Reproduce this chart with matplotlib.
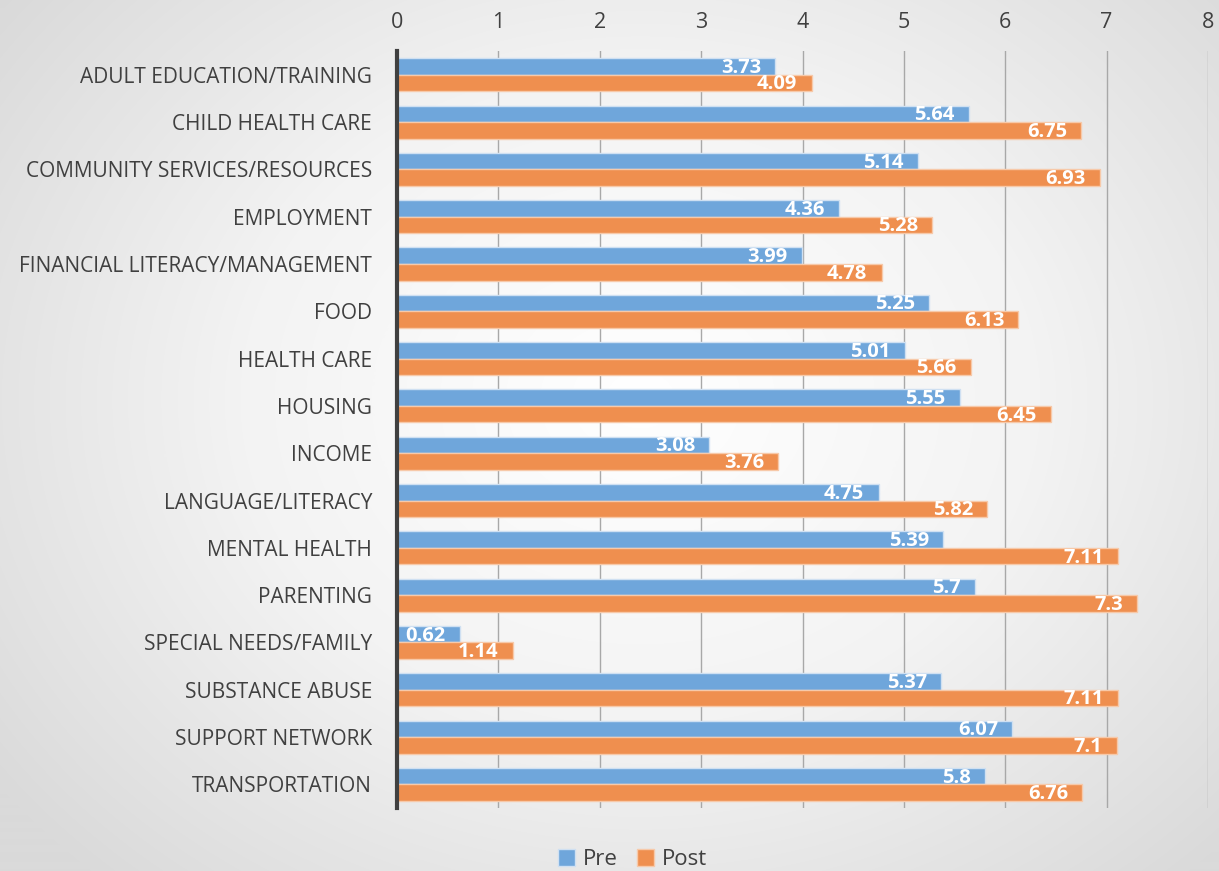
import numpy as np
import matplotlib
matplotlib.use("Agg")
import matplotlib.pyplot as plt
from matplotlib.colors import LinearSegmentedColormap

plt.rcParams['font.family'] = ['Open Sans', 'DejaVu Sans']

categories = ["ADULT EDUCATION/TRAINING", "CHILD HEALTH CARE", "COMMUNITY SERVICES/RESOURCES",
              "EMPLOYMENT", "FINANCIAL LITERACY/MANAGEMENT", "FOOD", "HEALTH CARE", "HOUSING",
              "INCOME", "LANGUAGE/LITERACY", "MENTAL HEALTH", "PARENTING",
              "SPECIAL NEEDS/FAMILY", "SUBSTANCE ABUSE", "SUPPORT NETWORK", "TRANSPORTATION"]
pre = [3.73, 5.64, 5.14, 4.36, 3.99, 5.25, 5.01, 5.55, 3.08, 4.75, 5.39, 5.7, 0.62, 5.37, 6.07, 5.8]
post = [4.09, 6.75, 6.93, 5.28, 4.78, 6.13, 5.66, 6.45, 3.76, 5.82, 7.11, 7.3, 1.14, 7.11, 7.1, 6.76]
pre_labels = ["3.73", "5.64", "5.14", "4.36", "3.99", "5.25", "5.01", "5.55", "3.08", "4.75",
              "5.39", "5.7", "0.62", "5.37", "6.07", "5.8"]
post_labels = ["4.09", "6.75", "6.93", "5.28", "4.78", "6.13", "5.66", "6.45", "3.76", "5.82",
               "7.11", "7.3", "1.14", "7.11", "7.1", "6.76"]

blue = "#6fa6db"
orange = "#ef8f4f"

fig = plt.figure(figsize=(12.19, 8.71), dpi=100)

# radial gradient background
bg = fig.add_axes([0, 0, 1, 1], zorder=0)
yy, xx = np.mgrid[0:871, 0:1219]
r = np.sqrt(((xx - 640) / 800.0) ** 2 + ((yy - 400) / 650.0) ** 2)
cmap_bg = LinearSegmentedColormap.from_list("bg", ["#ffffff", "#f3f3f3", "#dadada"])
bg.imshow(r, cmap=cmap_bg, vmin=0, vmax=1.0, aspect="auto")
bg.axis("off")

ax = fig.add_axes([0.3257, 0.0723, 0.6653, 0.869], zorder=1)
ax.patch.set_alpha(0)

y = np.arange(len(categories))
h = 0.35
bp = ax.barh(y - h / 2, pre, height=h, color=blue, edgecolor="#cfe0f2", linewidth=1, zorder=3, label="Pre")
bo = ax.barh(y + h / 2, post, height=h, color=orange, edgecolor="#f7c9a9", linewidth=1, zorder=3, label="Post")

for yi, v, s in zip(y, pre, pre_labels):
    ax.text(v - 0.14, yi - h / 2 + 0.03, s, ha="right", va="center", color="white",
            fontsize=14.5, fontweight="bold", zorder=4)
for yi, v, s in zip(y, post, post_labels):
    ax.text(v - 0.14, yi + h / 2 + 0.03, s, ha="right", va="center", color="white",
            fontsize=14.5, fontweight="bold", zorder=4)

ax.set_xlim(0, 8)
ax.set_ylim(len(categories) - 0.5, -0.5)
ax.set_yticks(y)
ax.set_yticklabels(categories, fontsize=15, color="#404040")
ax.xaxis.tick_top()
ax.set_xticks(range(0, 9))
ax.tick_params(axis="x", labelsize=15.5, labelcolor="#404040", length=0, pad=13)
ax.tick_params(axis="y", length=0, pad=18)
ax.grid(axis="x", color="#a8a8a8", linewidth=1, zorder=0)
for s in ["top", "right", "bottom"]:
    ax.spines[s].set_visible(False)
ax.spines["left"].set_color("#404040")
ax.spines["left"].set_linewidth(3)
ax.spines["left"].set_zorder(5)

leg = fig.legend(handles=[bp, bo], labels=["Pre", "Post"], loc="center", bbox_to_anchor=(0.519, 0.013),
                 ncol=2, frameon=False, fontsize=16, handlelength=0.75, handleheight=0.75,
                 handletextpad=0.35, columnspacing=0.9, labelcolor="#404040")

fig.savefig("out.png", dpi=100)
